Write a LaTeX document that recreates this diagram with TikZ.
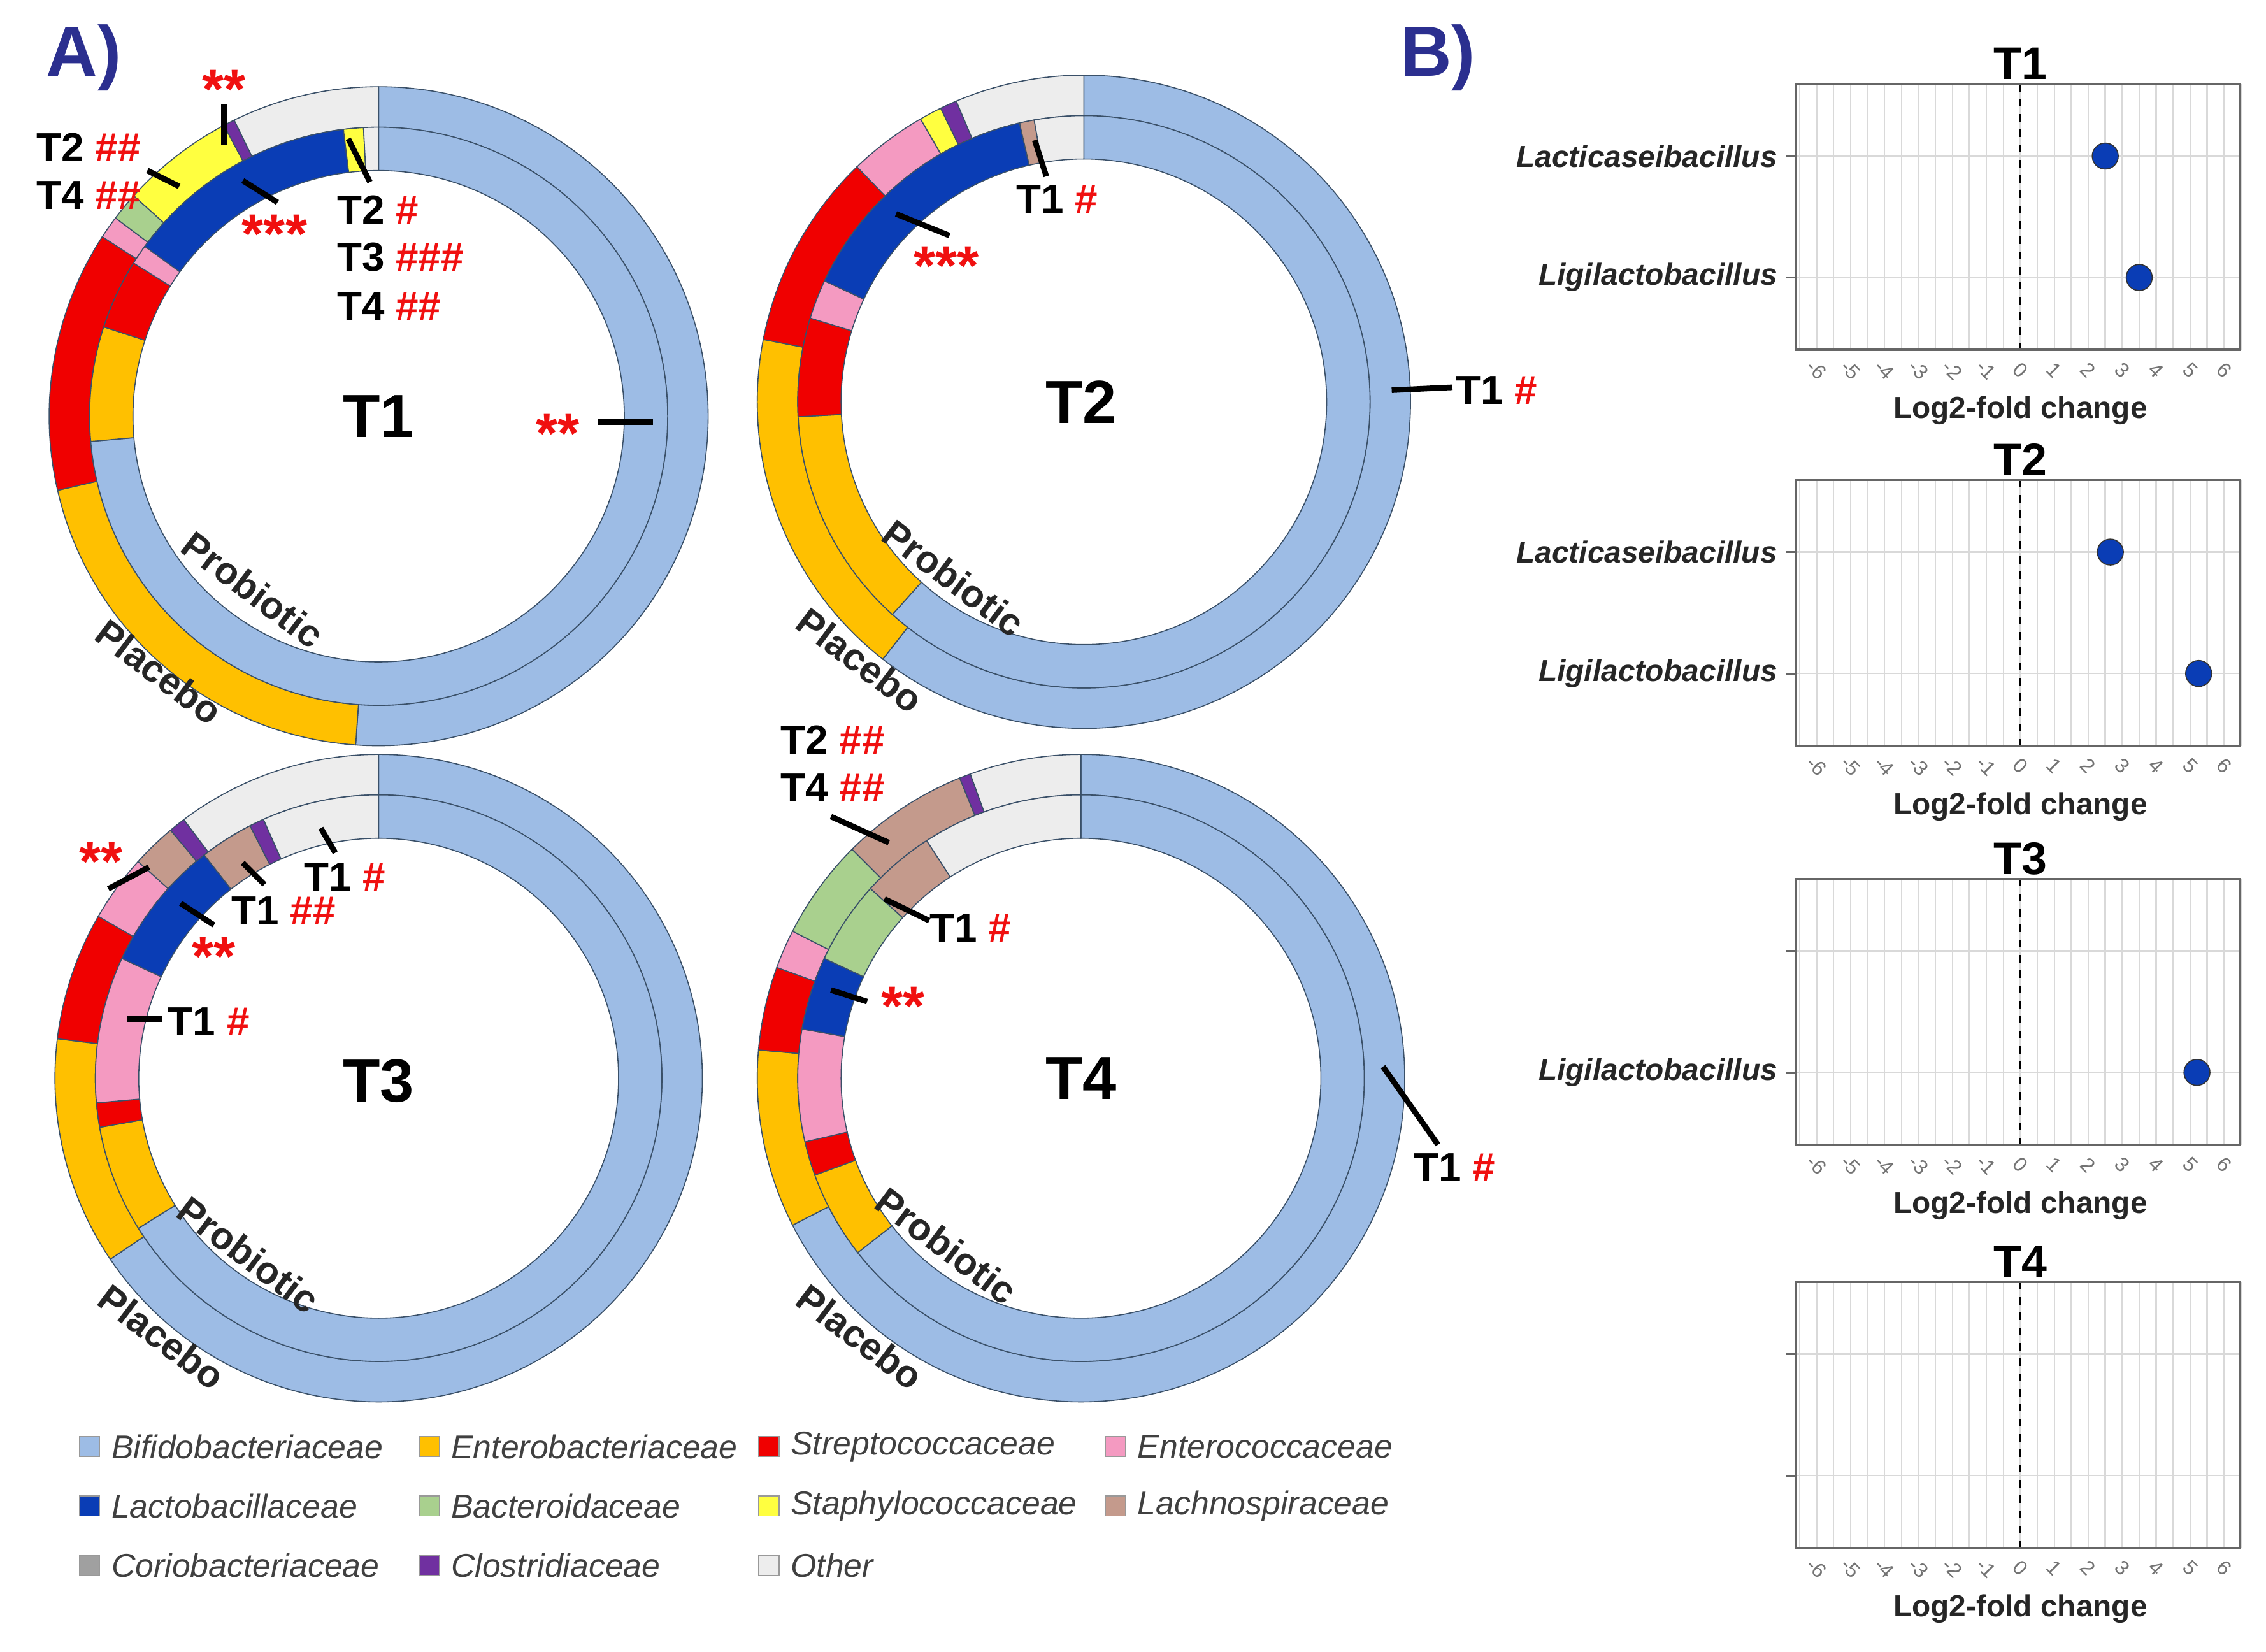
\documentclass[tikz,border=0pt]{standalone}
\usepackage{fontspec}
\setmainfont{Liberation Sans}
\usetikzlibrary{calc}
\begin{document}
\definecolor{cBif}{HTML}{9DBCE5}
\definecolor{cEnt}{HTML}{FFC000}
\definecolor{cStr}{HTML}{F00000}
\definecolor{cEnc}{HTML}{F49AC1}
\definecolor{cLac}{HTML}{0A3DB5}
\definecolor{cBac}{HTML}{A9D08E}
\definecolor{cSta}{HTML}{FFFF40}
\definecolor{cLch}{HTML}{C49A8C}
\definecolor{cCor}{HTML}{A0A0A0}
\definecolor{cClo}{HTML}{7030A0}
\definecolor{cOth}{HTML}{EDEDED}
\definecolor{ttl}{HTML}{2B2F8F}
\definecolor{rd}{HTML}{F01010}
\definecolor{ringline}{HTML}{3A5068}
\begin{tikzpicture}[x=0.02cm,y=0.02cm,
  ann/.style={line width=2.2pt,black},
  lab/.style={font=\fontsize{16}{18}\selectfont\bfseries,anchor=west,inner sep=0},
  star/.style={font=\fontsize{22}{22}\selectfont\bfseries,text=rd,inner sep=0},
  ctr/.style={font=\fontsize{24}{26}\selectfont\bfseries},
  grp/.style={font=\fontsize{15}{17}\selectfont\bfseries,text=black!85,rotate=-37},
  leg/.style={font=\fontsize{13}{15}\selectfont\itshape,text=black!75,anchor=west},
  gl/.style={black!15,line width=0.6pt},
  cat/.style={font=\fontsize{12}{14}\selectfont\bfseries\itshape,anchor=east,text=black!85},
  tk/.style={font=\fontsize{8}{9}\selectfont,text=black!55,rotate=-45,inner sep=0},
  pt/.style={circle,fill=cLac,draw=black!80,minimum size=18*0.02cm,inner sep=0}]
\useasboundingbox (0,0) rectangle (1568,-1143);
\newcommand\ringA[5]{% cx cy rin rout list
 \foreach \a/\b/\c in {#5}{
  \fill[\c,draw=ringline,line width=0.4pt] ($(#1,#2)+(\a:#4)$) arc[start angle=\a,end angle=\b,radius=#4*0.02cm] -- ($(#1,#2)+(\b:#3)$) arc[start angle=\b,end angle=\a,radius=#3*0.02cm] -- cycle;}}
% T1
\ringA{262}{-288}{200}{228}{90/-94/cBif,-94/-167/cEnt,-167/-213/cStr,-213/-217/cEnc,-217/-222/cBac,-222/-242/cSta,-242/-244/cClo,-244/-270/cOth}
\ringA{262}{-288}{170}{200}{90/-175/cBif,-175/-198/cEnt,-198/-212/cStr,-212/-216/cEnc,-216/-263/cLac,-263/-267/cSta,-267/-270/cOth}
% T2
\ringA{750}{-278}{198}{226}{90/-128/cBif,-128/-191/cEnt,-191/-226/cStr,-226/-240/cEnc,-240/-244/cSta,-244/-247/cClo,-247/-270/cOth}
\ringA{750}{-278}{168}{198}{90/-132/cBif,-132/-177/cEnt,-177/-197/cStr,-197/-205/cEnc,-205/-257/cLac,-257/-260/cLch,-260/-270/cOth}
% T3
\ringA{262}{-746}{196}{224}{90/-146/cBif,-146/-187/cEnt,-187/-210/cStr,-210/-222/cEnc,-222/-230/cLch,-230/-233/cClo,-233/-270/cOth}
\ringA{262}{-746}{166}{196}{90/-148/cBif,-148/-170/cEnt,-170/-175/cStr,-175/-205/cEnc,-205/-232/cLac,-232/-243/cLch,-243/-246/cClo,-246/-270/cOth}
% T4
\ringA{748}{-746}{196}{224}{90/-153/cBif,-153/-185/cEnt,-185/-200/cStr,-200/-207/cEnc,-207/-225/cBac,-225/-248/cLch,-248/-250/cClo,-250/-270/cOth}
\ringA{748}{-746}{166}{196}{90/-142/cBif,-142/-160/cEnt,-160/-167/cStr,-167/-190/cEnc,-190/-205/cLac,-205/-222/cBac,-222/-237/cLch,-237/-270/cOth}
% centre labels
\node[ctr] (c1) at (262,-288) {T1};
\node[ctr] (c2) at (748,-278) {T2};
\node[ctr] (c3) at (262,-748) {T3};
\node[ctr] (c4) at (748,-746) {T4};
\node[grp] (p1) at (175,-408) {Probiotic};
\node[grp] (q1) at (110,-465) {Placebo};
\node[grp] (p2) at (660,-400) {Probiotic};
\node[grp] (q2) at (595,-457) {Placebo};
\node[grp] (p3) at (172,-868) {Probiotic};
\node[grp] (q3) at (112,-925) {Placebo};
\node[grp] (p4) at (655,-862) {Probiotic};
\node[grp] (q4) at (595,-925) {Placebo};
% annotations T1
\draw[ann] (155,-72) -- (155,-100);
\node[star] at (155,-62) {**};
\node[lab] at (25,-102) {T2 \textcolor{rd}{\#\#}};
\node[lab] at (25,-135) {T4 \textcolor{rd}{\#\#}};
\draw[ann] (102,-118) -- (124,-129);
\draw[ann] (168,-125) -- (192,-140);
\node[star] at (190,-162) {***};
\draw[ann] (241,-96) -- (256,-126);
\node[lab] at (233,-145) {T2 \textcolor{rd}{\#}};
\node[lab] at (233,-178) {T3 \textcolor{rd}{\#\#\#}};
\node[lab] at (233,-212) {T4 \textcolor{rd}{\#\#}};
\draw[ann] (414,-292) -- (452,-292);
\node[star] at (386,-300) {**};
% T2
\draw[ann] (716,-97) -- (724,-122);
\node[lab] at (703,-138) {T1 \textcolor{rd}{\#}};
\draw[ann] (620,-148) -- (657,-163);
\node[star] at (655,-184) {***};
\draw[ann] (963,-270) -- (1005,-268);
\node[lab] at (1007,-270) {T1 \textcolor{rd}{\#}};
% T3
\node[star] at (70,-596) {**};
\draw[ann] (75,-615) -- (103,-600);
\draw[ann] (125,-625) -- (148,-640);
\node[star] at (148,-662) {**};
\draw[ann] (168,-597) -- (183,-612);
\node[lab] at (160,-630) {T1 \textcolor{rd}{\#\#}};
\draw[ann] (222,-573) -- (232,-590);
\node[lab] at (210,-607) {T1 \textcolor{rd}{\#}};
\draw[ann] (88,-705) -- (112,-705);
\node[lab] at (116,-707) {T1 \textcolor{rd}{\#}};
% T4
\node[lab] at (540,-512) {T2 \textcolor{rd}{\#\#}};
\node[lab] at (540,-545) {T4 \textcolor{rd}{\#\#}};
\draw[ann] (575,-565) -- (615,-583);
\draw[ann] (612,-622) -- (643,-637);
\node[lab] at (643,-642) {T1 \textcolor{rd}{\#}};
\draw[ann] (575,-685) -- (600,-693);
\node[star] at (625,-696) {**};
\draw[ann] (957,-738) -- (995,-792);
\node[lab] at (978,-808) {T1 \textcolor{rd}{\#}};
% panel titles
\node[font=\fontsize{28}{30}\selectfont\bfseries,text=ttl] (A) at (58,-40) {A)};
\node[font=\fontsize{28}{30}\selectfont\bfseries,text=ttl] (B) at (995,-40) {B)};
% legend
\foreach \c/\t/\x/\y in {cBif/Bifidobacteriaceae/55/1001,cEnt/Enterobacteriaceae/290/1001,cStr/Streptococcaceae/525/1001,cEnc/Enterococcaceae/765/1001,
 cLac/Lactobacillaceae/55/1042,cBac/Bacteroidaceae/290/1042,cSta/Staphylococcaceae/525/1042,cLch/Lachnospiraceae/765/1042,
 cCor/Coriobacteriaceae/55/1083,cClo/Clostridiaceae/290/1083,cOth/Other/525/1083}{
 \fill[\c,draw=black!40] (\x,-\y-7) rectangle (\x+14,-\y+7);
 \node[leg] at (\x+16,-\y) {\t};}
% panel B
\foreach \top/\tt in {58/T1,332/T2,608/T3,887/T4}{
 \foreach \v in {-6.5,-6,...,6.5}{\draw[gl] (1398+23.5*\v,-\top) -- (1398+23.5*\v,-\top-184);}
 \draw[gl] (1243,-\top-50) -- (1550,-\top-50);
 \draw[gl] (1243,-\top-134) -- (1550,-\top-134);
 \draw[black!60,line width=0.8pt] (1236,-\top-50) -- (1243,-\top-50) (1236,-\top-134) -- (1243,-\top-134);
 \draw[black,dashed,line width=1pt] (1398,-\top) -- (1398,-\top-184);
 \draw[black!60,line width=0.8pt] (1243,-\top) rectangle (1550,-\top-184);
 \foreach \v in {-6,...,6}{\node[tk] at (1398+23.5*\v,-\top-198) {\v};}
 \node[font=\fontsize{12}{14}\selectfont\bfseries,text=black!85] at (1398,-\top-226) {Log2-fold change};
 \node[font=\fontsize{18}{20}\selectfont\bfseries] at (1398,-\top+14) {\tt};
}
\node[cat] at (1236,-108) {Lacticaseibacillus};
\node[cat] at (1236,-192) {Ligilactobacillus};
\node[cat] at (1236,-382) {Lacticaseibacillus};
\node[cat] at (1236,-466) {Ligilactobacillus};
\node[cat] at (1236,-742) {Ligilactobacillus};
\node[pt] (d1) at (1398+23.5*2.5,-108) {};
\node[pt] (d2) at (1398+23.5*3.5,-192) {};
\node[pt] (d3) at (1398+23.5*2.65,-382) {};
\node[pt] (d4) at (1398+23.5*5.25,-466) {};
\node[pt] (d5) at (1398+23.5*5.2,-742) {};
\end{tikzpicture}
\end{document}
